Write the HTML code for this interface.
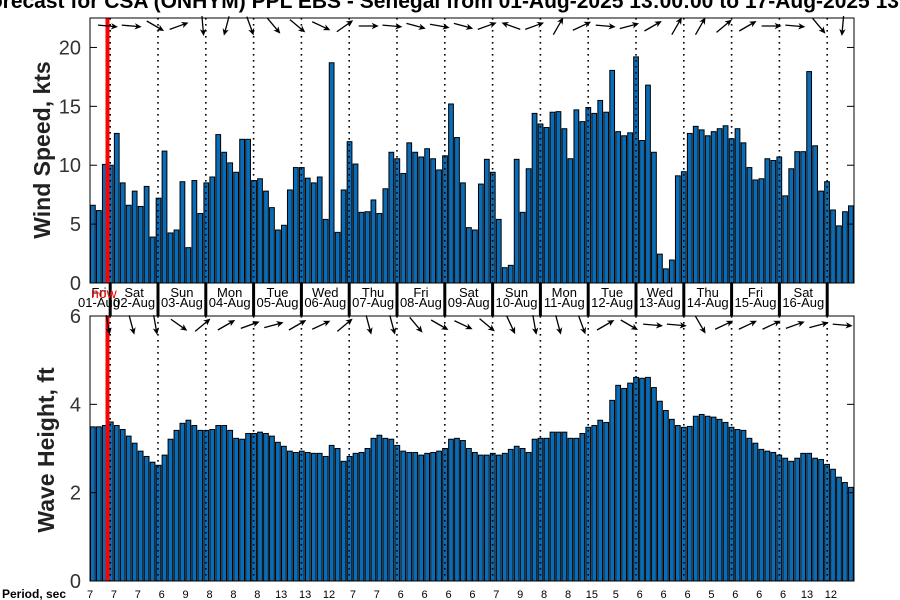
<!DOCTYPE html>
<html><head><meta charset="utf-8"><style>
html,body{margin:0;padding:0;background:#fff;}
svg{display:block;font-family:"Liberation Sans",sans-serif;}
</style></head><body>
<svg id="chart" width="900" height="600" viewBox="0 0 900 600">
<text x="-23" y="8" font-size="21" font-weight="bold" fill="#000">Forecast for CSA (ONHYM) PPL EBS  - Senegal from 01-Aug-2025 13:00:00 to 17-Aug-2025 13:00:00</text>
<g id="top"></g>
<g id="strip"></g>
<g id="bot"></g>
<text x="0" y="0" transform="translate(50,150) rotate(-90)" text-anchor="middle" font-size="23" font-weight="bold" fill="#222">Wind Speed, kts</text>
<text x="0" y="0" transform="translate(54,450) rotate(-90)" text-anchor="middle" font-size="23" font-weight="bold" fill="#222">Wave Height, ft</text>
<text x="2" y="598" font-size="12" font-weight="bold" fill="#000">Period, sec</text>
</svg>
<script>
const windSpeed=[6.6,6.15,10.07,10.0,12.7,8.5,6.6,7.8,6.5,8.2,3.9,7.2,11.2,4.25,4.5,8.6,3.0,8.7,5.9,8.5,9.0,12.6,11.1,10.2,9.4,12.2,12.2,8.7,8.85,7.8,6.4,4.5,4.9,7.9,9.8,9.8,8.9,8.5,9.0,5.4,18.7,4.3,7.9,12.0,10.1,6.0,6.05,7.05,5.9,8.0,11.1,10.55,9.3,11.9,11.1,10.7,11.4,10.55,9.6,10.8,15.2,12.35,8.5,4.7,4.5,8.4,10.5,9.4,5.4,1.3,1.5,10.5,6.0,9.7,14.4,13.5,13.2,14.5,14.55,13.1,10.55,14.7,13.7,14.9,14.4,15.5,14.5,18.05,12.85,12.5,12.75,19.2,12.1,16.8,11.1,2.45,1.2,1.95,9.1,9.45,12.7,13.3,13.0,12.5,12.85,13.1,13.35,12.25,13.1,11.9,9.8,8.75,8.85,10.55,10.4,10.7,7.4,9.7,11.15,11.15,17.95,11.65,7.8,8.6,6.2,4.85,6.05,6.55,4.5];
const waveHeight=[3.49,3.49,3.52,3.6,3.52,3.43,3.28,3.12,2.94,2.82,2.69,2.62,2.85,3.21,3.41,3.57,3.64,3.52,3.41,3.41,3.43,3.52,3.52,3.41,3.23,3.21,3.34,3.34,3.37,3.34,3.28,3.14,3.05,2.94,2.91,2.94,2.91,2.89,2.89,2.82,3.07,3.0,2.71,2.82,2.89,2.91,3.0,3.23,3.30,3.23,3.21,3.07,2.94,2.91,2.91,2.85,2.89,2.91,2.94,3.0,3.21,3.23,3.18,3.0,2.91,2.85,2.85,2.89,2.85,2.89,2.98,3.05,3.0,2.91,3.21,3.23,3.23,3.37,3.37,3.37,3.23,3.23,3.34,3.48,3.52,3.64,3.59,4.09,4.43,4.36,4.48,4.61,4.59,4.61,4.38,4.07,3.86,3.66,3.52,3.48,3.5,3.73,3.77,3.73,3.71,3.66,3.59,3.48,3.43,3.41,3.23,3.12,2.98,2.94,2.91,2.85,2.78,2.71,2.78,2.89,2.89,2.78,2.75,2.64,2.53,2.35,2.23,2.12];
const windDir=[5,5,30,-20,85,105,70,50,40,25,-35,0,5,15,10,15,-20,200,-20,-60,-25,5,-15,-30,-60,-60,-40,-30,0,5,50,95];
const waveDir=[80,75,80,35,-40,-30,-20,-15,-30,-25,-40,75,75,50,30,25,40,65,80,75,70,-30,30,5,5,60,-25,-25,-25,-20,-15,5];
const periods=["7","7","7","6","9","8","8","8","13","13","12","7","7","6","6","6","6","7","9","8","8","15","5","6","6","6","5","6","6","6","13","12"];
const dayNames=["Fri","Sat","Sun","Mon","Tue","Wed","Thu","Fri","Sat","Sun","Mon","Tue","Wed","Thu","Fri","Sat"];
const dayDates=["01-Aug","02-Aug","03-Aug","04-Aug","05-Aug","06-Aug","07-Aug","08-Aug","09-Aug","10-Aug","11-Aug","12-Aug","13-Aug","14-Aug","15-Aug","16-Aug"];
const windTicks=[0,5,10,15,20];
const waveTicks=[0,2,4,6];

const NS="http://www.w3.org/2000/svg";
const X0=90,X1=854,NB=128,BW=(X1-X0)/NB;
const DAY0=110.2,DAYW=47.8;
function xBar(i){return X0+i*BW;}
function mk(tag,attrs,parent){const e=document.createElementNS(NS,tag);for(const k in attrs)e.setAttribute(k,attrs[k]);parent.appendChild(e);return e;}
const svg=document.getElementById('chart');
const defs=mk('defs',{},svg);
function panel(g,id,top,bot,ymax,vals,ticks,dirs,arrowY,name){
  const y=v=>bot-(v/ymax)*(bot-top);
  const cp=mk('clipPath',{id:'c'+id},defs);
  mk('rect',{x:X0,y:top,width:X1-X0,height:bot-top},cp);
  const bars=mk('g',{'clip-path':'url(#c'+id+')'},g);
  vals.forEach((v,i)=>{
    const r=mk('rect',{x:xBar(i)+0.5,y:y(v),width:BW-1.2,height:bot-y(v),fill:'#0a6cb6',stroke:'#000','stroke-width':1},bars);
    
    
  });
  for(let k=0;k<16;k++){
    const x=DAY0+k*DAYW;
    const l=mk('line',{x1:x,y1:top,x2:x,y2:bot,stroke:'#000','stroke-width':1.6,'stroke-dasharray':'1.6 4.4'},g);
    
    
  }
  const red=mk('rect',{x:105.5,y:top,width:4,height:bot-top,fill:'#ff0000'},g);
  
  
  ticks.forEach(t=>{
    const ty=y(t);
    mk('line',{x1:X0,y1:ty,x2:X0+7,y2:ty,stroke:'#000'},g);
    mk('line',{x1:X1-7,y1:ty,x2:X1,y2:ty,stroke:'#000'},g);
    const tx=mk('text',{x:81,y:ty+7,'text-anchor':'end','font-size':20,fill:'#333'},g);
    tx.textContent=t;
    
    
  });
  const box=mk('rect',{x:X0,y:top,width:X1-X0,height:bot-top,fill:'none',stroke:'#000','stroke-width':1},g);
  
  
  dirs.forEach((d,k)=>{
    const cx=108+k*23.7,a=d*Math.PI/180,L=10;
    const dx=Math.cos(a)*L,dy=Math.sin(a)*L;
    const ag=mk('g',{},g);
    
    
    mk('line',{x1:cx-dx,y1:arrowY-dy,x2:cx+dx*0.6,y2:arrowY+dy*0.6,stroke:'#000','stroke-width':1.3},ag);
    const hx=cx+dx,hy=arrowY+dy,bx=Math.cos(a),by=Math.sin(a),px=-by,py=bx;
    mk('polygon',{points:`${hx},${hy} ${hx-bx*7+px*3.2},${hy-by*7+py*3.2} ${hx-bx*5+0},${hy-by*5} ${hx-bx*7-px*3.2},${hy-by*7-py*3.2}`,fill:'#000'},ag);
  });
}
panel(document.getElementById('top'),'t',18,283,22.5,windSpeed,windTicks,windDir,26,'wind');
panel(document.getElementById('bot'),'b',316,581,6,waveHeight,waveTicks,waveDir,325,'wave');
const st=document.getElementById('strip');
for(let k=0;k<16;k++){
  const x=DAY0+k*DAYW;
  const m=mk('rect',{x:x-1.5,y:283,width:3,height:33,fill:'#000'},st);
  
  
}
dayNames.forEach((n,k)=>{
  const cx=k===0?99:DAY0+(k-0.5)*DAYW;
  const t=mk('text',{x:cx,y:297,'text-anchor':'middle','font-size':13,fill:'#000'},st);
  t.textContent=n;
  
  
  const d=mk('text',{x:cx,y:307,'text-anchor':'middle','font-size':13,fill:'#000'},st);
  d.textContent=dayDates[k];
  
  
});
const nw=mk('text',{x:91,y:298,'font-size':14,fill:'#ff0000'},st);
nw.textContent='now';


periods.forEach((p,k)=>{
  const t=mk('text',{x:90+k*23.9,y:598,'text-anchor':'middle','font-size':11,fill:'#000'},svg);
  t.textContent=p;
  
  
});
</script>
</body></html>
